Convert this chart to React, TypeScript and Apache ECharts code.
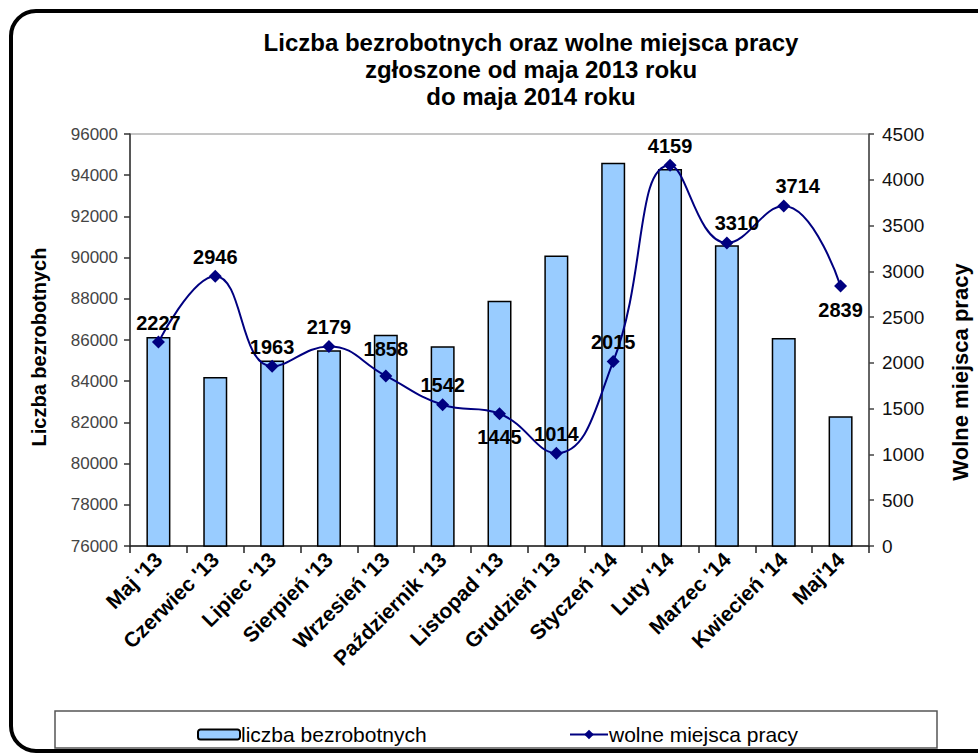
import React, { useEffect, useRef } from "react";
import * as echarts from "echarts";

const categories = [
  "Maj '13",
  "Czerwiec '13",
  "Lipiec '13",
  "Sierpień '13",
  "Wrzesień '13",
  "Październik '13",
  "Listopad '13",
  "Grudzień '13",
  "Styczeń '14",
  "Luty '14",
  "Marzec '14",
  "Kwiecień '14",
  "Maj'14",
];

const unemployed = [86150, 84200, 85000, 85500, 86250, 85700, 87900, 90100, 94600, 94300, 90600, 86100, 82300];
const vacancies = [2227, 2946, 1963, 2179, 1858, 1542, 1445, 1014, 2015, 4159, 3310, 3714, 2839];

const leftTicks = { min: 76000, max: 96000, interval: 2000 };
const rightTicks = { min: 0, max: 4500, interval: 500 };

const titleLines = [
  "Liczba bezrobotnych oraz wolne miejsca pracy",
  "zgłoszone od maja 2013 roku",
  "do maja 2014 roku",
];
const leftAxisName = "Liczba bezrobotnych";
const rightAxisName = "Wolne miejsca pracy";
const barName = "liczba bezrobotnych";
const lineName = "wolne miejsca pracy";

// label placement per point (style only)
const labelStyleOverrides: Record<number, any> = {
  4: { distance: 10 },
  6: { position: "bottom", distance: 7 },
  10: { offset: [10, 0] },
  11: { offset: [14, 0] },
  12: { position: "bottom", distance: 7 },
};

const FONT = '"Liberation Sans", Arial, sans-serif';

export default function App() {
  const ref = useRef<HTMLDivElement>(null);
  useEffect(() => {
    if (!ref.current) return;
    const chart = echarts.init(ref.current, undefined, { renderer: "svg" });
    const lineData = vacancies.map((v, i) => {
      const o = labelStyleOverrides[i];
      return o ? { value: v, label: { ...o } } : v;
    });
    const plain = (v: number) => String(v);
    chart.setOption({
      animation: false,
      backgroundColor: "#ffffff",
      textStyle: { fontFamily: FONT },
      grid: {
        left: 130,
        right: 109,
        top: 134,
        bottom: 207,
        show: true,
        borderColor: "#8a8a8a",
        borderWidth: 1,
        backgroundColor: "transparent",
      },
      legend: [
        {
          data: [barName],
          left: 192,
          top: 719,
          itemWidth: 42,
          itemHeight: 10,
          itemGap: 0,
          textStyle: { fontSize: 21, color: "#000", fontFamily: FONT, padding: [0, 0, 0, -4] },
        },
        {
          data: [lineName],
          left: 564,
          top: 719,
          itemWidth: 38,
          itemHeight: 12,
          textStyle: { fontSize: 21, color: "#000", fontFamily: FONT, padding: [0, 0, 0, -4] },
        },
      ],
      xAxis: {
        type: "category",
        data: categories,
        axisLine: { lineStyle: { color: "#222", width: 1.5 } },
        axisTick: { show: true, length: 7, lineStyle: { color: "#222", width: 1.5 } },
        axisLabel: {
          rotate: 45,
          interval: 0,
          margin: 10,
          color: "#000",
          fontSize: 21,
          fontWeight: "bold",
          fontFamily: FONT,
        },
      },
      yAxis: [
        {
          type: "value",
          min: leftTicks.min,
          max: leftTicks.max,
          interval: leftTicks.interval,
          position: "left",
          splitLine: { show: false },
          axisLine: { show: true, lineStyle: { color: "#333", width: 1.5 } },
          axisTick: { show: true, length: 6, lineStyle: { color: "#333", width: 1.5 } },
          axisLabel: { color: "#444", fontSize: 17, margin: 12, fontFamily: FONT, formatter: plain },
        },
        {
          type: "value",
          min: rightTicks.min,
          max: rightTicks.max,
          interval: rightTicks.interval,
          position: "right",
          splitLine: { show: false },
          axisLine: { show: true, lineStyle: { color: "#444", width: 1.5 } },
          axisTick: { show: true, length: 5, lineStyle: { color: "#444", width: 1.5 } },
          axisLabel: { color: "#111", fontSize: 19, margin: 13, fontFamily: FONT, formatter: plain },
        },
      ],
      series: [
        {
          name: barName,
          type: "bar",
          yAxisIndex: 0,
          data: unemployed,
          barWidth: 24,
          itemStyle: { color: "#99ccff", borderColor: "#000", borderWidth: 1.5 },
        },
        {
          name: lineName,
          type: "line",
          yAxisIndex: 1,
          data: lineData,
          smooth: 0.45,
          symbol: "diamond",
          symbolSize: 13,
          lineStyle: { color: "#000080", width: 2 },
          itemStyle: { color: "#000080" },
          label: {
            show: true,
            position: "top",
            distance: 3,
            color: "#000",
            fontSize: 20,
            fontWeight: "bold",
            fontFamily: FONT,
          },
          z: 3,
        },
      ],
      graphic: [
        {
          type: "rect",
          shape: { x: 11, y: 11, width: 990, height: 740, r: 25 },
          style: { fill: "none", stroke: "#000", lineWidth: 4 },
          silent: true,
          z: 0,
        },
        {
          type: "rect",
          shape: { x: 55, y: 711, width: 882, height: 37 },
          style: { fill: "none", stroke: "#555", lineWidth: 1.5 },
          silent: true,
          z: 0,
        },
        {
          type: "text",
          x: 531,
          y: 69,
          style: {
            text: titleLines.join("\n"),
            fill: "#000",
            font: `bold 24px ${FONT}`,
            align: "center",
            verticalAlign: "middle",
            lineHeight: 27,
          },
        },
        {
          type: "text",
          x: 39,
          y: 347,
          rotation: Math.PI / 2,
          style: {
            text: leftAxisName,
            fill: "#000",
            font: `bold 20px ${FONT}`,
            align: "center",
            verticalAlign: "middle",
          },
        },
        {
          type: "text",
          x: 960,
          y: 372,
          rotation: Math.PI / 2,
          style: {
            text: rightAxisName,
            fill: "#000",
            font: `bold 22px ${FONT}`,
            align: "center",
            verticalAlign: "middle",
          },
        },
      ],
    });
    return () => chart.dispose();
  }, []);
  return (
    <div
      ref={ref}
      style={{ position: "fixed", left: 0, top: 0, width: 978, height: 753, background: "#fff" }}
    />
  );
}
